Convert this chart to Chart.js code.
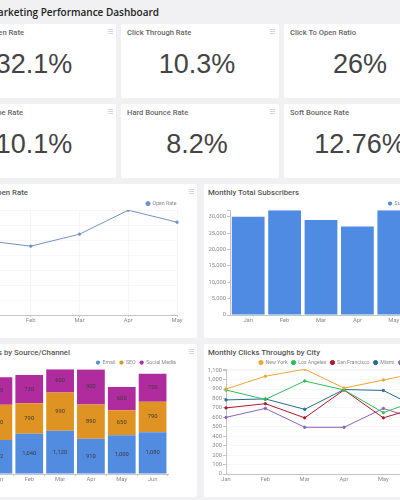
<!DOCTYPE html>
<html>
<head>
<meta charset="utf-8">
<title>Email Marketing Performance Dashboard</title>
<script src="https://cdn.jsdelivr.net/npm/chart.js@4"></script>
<style>
html, body { margin: 0; width: 400px; height: 500px; overflow: hidden; background: #f1f1f3; }
body { position: relative; font-family: Roboto, sans-serif; filter: blur(0.4px); }
.card { position: absolute; background: #fff; border-radius: 2px; }
.card-title { position: absolute; top: 2.5px; white-space: nowrap; font: 500 7.6px Roboto, sans-serif; color: #666; line-height: 12px; }
.chart-title { font-size: 7.8px; color: #555; top: 2.5px; }
.kpi-value { position: absolute; top: 20px; left: 0; width: 100%; padding-right: 6px; box-sizing: border-box; text-align: center; font: 27px "Liberation Sans", Arial, sans-serif; color: #444; line-height: 40px; white-space: nowrap; }
.menu { position: absolute; width: 5px; height: 3px; border-top: 1px solid #d2d2d2; border-bottom: 1px solid #d2d2d2; }
.menu::after { content: ""; position: absolute; left: 0; right: 0; top: 1px; height: 1px; background: #d2d2d2; }
h1 { position: absolute; margin: 0; top: 4px; right: 241px; white-space: nowrap; font: 600 10px "Open Sans", sans-serif; color: #222; line-height: 16px; }
canvas { position: absolute; }
</style>
</head>
<body>
<h1>Email Marketing Performance Dashboard</h1>

<div class="card" style="left:-42px;top:24px;width:158px;height:74px">
  <div class="card-title" style="right:92px">Email Open Rate</div>
  <div class="kpi-value">32.1%</div>
  <div class="menu" style="right:3px;top:5px"></div>
</div>
<div class="card" style="left:121px;top:24px;width:158px;height:74px">
  <div class="card-title" style="left:6px">Click Through Rate</div>
  <div class="kpi-value">10.3%</div>
  <div class="menu" style="right:4px;top:5px"></div>
</div>
<div class="card" style="left:284px;top:24px;width:158px;height:74px">
  <div class="card-title" style="left:6px">Click To Open Ratio</div>
  <div class="kpi-value">26%</div>
</div>
<div class="card" style="left:-42px;top:104px;width:158px;height:74px">
  <div class="card-title" style="right:93px">Unsubscribe Rate</div>
  <div class="kpi-value">10.1%</div>
  <div class="menu" style="right:3px;top:5px"></div>
</div>
<div class="card" style="left:121px;top:104px;width:158px;height:74px">
  <div class="card-title" style="left:6px">Hard Bounce Rate</div>
  <div class="kpi-value">8.2%</div>
  <div class="menu" style="right:4px;top:5px"></div>
</div>
<div class="card" style="left:284px;top:104px;width:158px;height:74px">
  <div class="card-title" style="left:6px">Soft Bounce Rate</div>
  <div class="kpi-value">12.76%</div>
</div>

<div class="card" style="left:-60px;top:184px;width:257px;height:154px">
  <div class="card-title chart-title" style="right:169px">Monthly Email Open Rate</div>
  <div class="menu" style="right:3px;top:5px"></div>
</div>
<div class="card" style="left:204px;top:184px;width:250px;height:154px">
  <div class="card-title chart-title" style="left:4px">Monthly Total Subscribers</div>
</div>
<div class="card" style="left:-60px;top:344px;width:257px;height:153px">
  <div class="card-title chart-title" style="right:127px">Monthly Clicks by Source/Channel</div>
  <div class="menu" style="right:3px;top:5px"></div>
</div>
<div class="card" style="left:204px;top:344px;width:250px;height:153px">
  <div class="card-title chart-title" style="left:4px">Monthly Clicks Throughs by City</div>
</div>

<canvas id="openRateChart" style="left:-50px;top:191px" width="233" height="134"></canvas>
<canvas id="subscribersChart" style="left:204px;top:191px" width="208" height="134"></canvas>
<canvas id="sourceChart" style="left:-50px;top:350px" width="228" height="134"></canvas>
<canvas id="cityChart" style="left:204px;top:350px" width="224" height="134"></canvas>

<script>
// data
var months = ["Jan", "Feb", "Mar", "Apr", "May", "Jun"];
var openRateMonths = ["Jan", "Feb", "Mar", "Apr", "May"];

var openRate = [25, 23, 27, 35, 31];
var subscribers = [30000, 32000, 29000, 27000, 32000];

var emailClicks = [882, 1040, 1120, 910, 1000, 1080];
var seoClicks = [910, 790, 990, 890, 650, 790];
var socialClicks = [710, 730, 600, 900, 600, 720];

var newYork = [900, 1035, 1110, 910, 995, 1080];
var losAngeles = [890, 790, 985, 890, 650, 800];
var sanFrancisco = [700, 745, 595, 890, 595, 720];
var miami = [785, 795, 685, 895, 885, 675];
var chicago = [600, 695, 495, 495, 695, 560];

// tick labels, the axis top comes on its own without a label
var openRateTicks = [0, 5, 10, 15, 20, 25, 30, 35];
var subscriberTicks = [0, 5000, 10000, 15000, 20000, 25000, 30000];
var sourceTicks = [0, 500, 1000, 1500, 2000, 2500];
var cityTicks = [0, 100, 200, 300, 400, 500, 600, 700, 800, 900, 1000, 1100];

var GREY_TEXT = "#8a8a8a";
var AXIS_LINE = "#c4c4c4";
var GRID_LINE = "#f6f6f6";

Chart.defaults.font.family = "Roboto, sans-serif";
Chart.defaults.font.size = 5.8;
Chart.defaults.color = GREY_TEXT;
Chart.defaults.animation = false;
Chart.defaults.responsive = false;

// puts the legend at a set spot, the dashboard does not line it up with the plot
var legendAtPlugin = {
    id: "legendAt",
    afterLayout: function(chart, args, opts) {
        if (opts.x !== undefined && chart.legend) {
            chart.legend.left = opts.x - chart.legend.options.labels.padding;
            chart.legend.right = 1000;
            chart.legend.top = opts.y;
        }
    }
};

// numbers inside the stacked bars
var barValuesPlugin = {
    id: "barValues",
    afterDatasetsDraw: function(chart, args, opts) {
        if (!opts.show) return;
        var ctx = chart.ctx;
        ctx.save();
        ctx.font = "5.8px Roboto, sans-serif";
        ctx.fillStyle = "#3a3a3a";
        ctx.textAlign = "center";
        ctx.textBaseline = "middle";
        chart.data.datasets.forEach(function(ds, i) {
            chart.getDatasetMeta(i).data.forEach(function(bar, j) {
                var p = bar.getCenterPoint();
                ctx.fillText(ds.data[j].toLocaleString("en-US"), p.x, p.y);
            });
        });
        ctx.restore();
    }
};
Chart.register(legendAtPlugin, barValuesPlugin);

function legendOptions() {
    return {
        display: true,
        position: "top",
        align: "start",
        labels: { usePointStyle: true, pointStyle: "circle", boxWidth: 4, boxHeight: 3, padding: 4, color: GREY_TEXT, font: { size: 5.2 } }
    };
}

// Chart.js stretches stepSize to fit the max, so the ticks are set by hand from the arrays
function useTicks(list) {
    return function(axis) {
        var values = list.slice();
        if (values.indexOf(axis.max) < 0) values.push(axis.max);
        axis.ticks = values.map(function(v) { return { value: v }; });
    };
}

function tickLabel(list) {
    return function(v) {
        return list.indexOf(v) >= 0 ? v.toLocaleString("en-US") : "";
    };
}

function fixedWidth(w) {
    return function(axis) { axis.width = w; };
}

function xAxis(extra) {
    return Object.assign({
        border: { color: AXIS_LINE },
        ticks: { maxRotation: 0, autoSkip: false, padding: 0.5 }
    }, extra);
}

function lineSeries(label, values, color) {
    return {
        label: label, data: values, borderColor: color, backgroundColor: color,
        borderWidth: 1, pointRadius: 1.2, pointBackgroundColor: color, pointBorderColor: color, tension: 0, fill: false
    };
}

function barSeries(label, values, color) {
    return { label: label, data: values, backgroundColor: color, barPercentage: 0.9, categoryPercentage: 1 };
}

new Chart(document.getElementById("openRateChart"), {
    type: "line",
    data: { labels: openRateMonths, datasets: [lineSeries("Open Rate", openRate, "#6f94c8")] },
    options: {
        plugins: { legend: legendOptions(), legendAt: { x: 196, y: 6 } },
        scales: {
            x: xAxis({ grid: { color: GRID_LINE, tickLength: 2, tickColor: AXIS_LINE } }),
            y: {
                min: 0, max: 35, afterFit: fixedWidth(32), afterBuildTicks: useTicks(openRateTicks),
                ticks: { autoSkip: false, callback: tickLabel(openRateTicks) },
                grid: { color: GRID_LINE, tickLength: 3 }, border: { color: AXIS_LINE }
            }
        }
    }
});

new Chart(document.getElementById("subscribersChart"), {
    type: "bar",
    data: { labels: openRateMonths, datasets: [barSeries("Subscribers", subscribers, "#4f8ae3")] },
    options: {
        plugins: { legend: legendOptions(), legendAt: { x: 184, y: 6 } },
        scales: {
            x: xAxis({ grid: { display: false, tickLength: 2 } }),
            y: {
                min: 0, max: 32000, afterFit: fixedWidth(26), afterBuildTicks: useTicks(subscriberTicks),
                ticks: { autoSkip: false, padding: 1, callback: tickLabel(subscriberTicks) },
                grid: { drawOnChartArea: false, tickLength: 3, tickColor: AXIS_LINE }, border: { color: AXIS_LINE }
            }
        }
    }
});

new Chart(document.getElementById("sourceChart"), {
    type: "bar",
    data: {
        labels: months,
        datasets: [
            barSeries("Email", emailClicks, "#528ce0"),
            barSeries("SEO", seoClicks, "#df9322"),
            barSeries("Social Media", socialClicks, "#b02c9e")
        ]
    },
    options: {
        // room on the right only for the legend text, the plot stops before it
        layout: { padding: { right: 10 } },
        plugins: { legend: legendOptions(), legendAt: { x: 146, y: 6 }, barValues: { show: true } },
        scales: {
            x: xAxis({ stacked: true, grid: { drawOnChartArea: false, tickLength: 2, tickColor: AXIS_LINE } }),
            y: {
                stacked: true, min: 0, max: 2710, afterFit: fixedWidth(33), afterBuildTicks: useTicks(sourceTicks),
                ticks: { autoSkip: false, callback: tickLabel(sourceTicks) },
                grid: { drawOnChartArea: false }, border: { color: AXIS_LINE }
            }
        }
    }
});

new Chart(document.getElementById("cityChart"), {
    type: "line",
    data: {
        labels: months,
        datasets: [
            lineSeries("New York", newYork, "#f0a336"),
            lineSeries("Los Angeles", losAngeles, "#2fbd57"),
            lineSeries("San Francisco", sanFrancisco, "#b3162a"),
            lineSeries("Miami", miami, "#246f8e"),
            lineSeries("Chicago", chicago, "#8a63bd")
        ]
    },
    options: {
        plugins: { legend: legendOptions(), legendAt: { x: 55, y: 6 } },
        scales: {
            x: xAxis({ grid: { display: false, tickLength: 2 } }),
            y: {
                min: 0, max: 1110, afterFit: fixedWidth(22), afterBuildTicks: useTicks(cityTicks),
                ticks: { autoSkip: false, padding: 1, callback: tickLabel(cityTicks) },
                grid: { color: GRID_LINE, tickLength: 3, tickColor: AXIS_LINE }, border: { color: AXIS_LINE }
            }
        }
    }
});
</script>
</body>
</html>
